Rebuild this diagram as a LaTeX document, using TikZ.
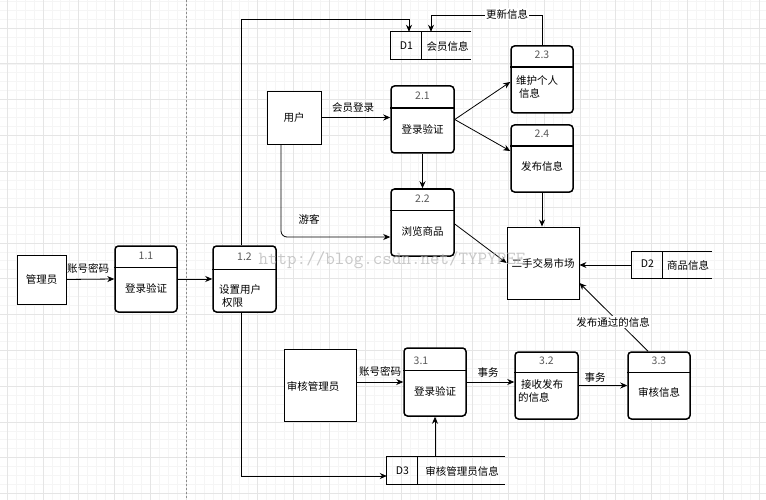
\documentclass[tikz,border=0pt]{standalone}
\usepackage{fontspec}
\setmainfont{Noto Sans CJK SC}
\usetikzlibrary{arrows.meta}
\newcommand\mkproc[5]{%
  \node[proc, minimum width=#3pt, minimum height=#4pt] (#1) at (#2) {};
  \draw[line width=1.5pt] ([yshift=-#5pt]#1.north west) -- ([yshift=-#5pt]#1.north east);
}
\newcommand\mkstore[4]{%
  \node[inner sep=0pt, minimum width=#3pt, minimum height=27pt] (#1) at (#2) {};
  \draw[store] (#1.north east) -- (#1.north west) -- (#1.south west) -- (#1.south east);
  \draw[store] ([xshift=#4pt]#1.north west) -- ([xshift=#4pt]#1.south west);
}
\tikzset{
  proc/.style={draw, rounded corners=3.5pt, line width=1.5pt, fill=white, inner sep=0pt},
  ent/.style={draw, line width=0.9pt, fill=white, inner sep=0pt},
  store/.style={line width=1.2pt},
  arr/.style={-{Stealth[length=7pt,width=6pt]}, line width=0.8pt},
  num/.style={text=black!65, inner sep=0pt},
  txt/.style={inner sep=0pt},
  lbl/.style={fill=white, inner sep=1pt},
  minorg/.style={black!4, line width=0.5pt},
  majorg/.style={black!10, line width=0.6pt}
}
\begin{document}
\begin{tikzpicture}[x=1pt, y=-1pt, font=\fontsize{10.5}{13}\selectfont]
\useasboundingbox (0,0) rectangle (766,500);
\fill[white] (0,0) rectangle (766,500);
% grid
\foreach \i in {0,...,86} {\draw[minorg] ({-1.95+8.95*\i},0) -- ({-1.95+8.95*\i},500);}
\foreach \i in {0,...,56} {\draw[minorg] (0,{1.15+8.95*\i}) -- (766,{1.15+8.95*\i});}
\foreach \i in {0,...,21} {\draw[majorg] ({7+35.8*\i},0) -- ({7+35.8*\i},500);}
\foreach \i in {0,...,13} {\draw[majorg] (0,{28+35.8*\i}) -- (766,{28+35.8*\i});}
\draw[black!45, dash pattern=on 2pt off 2pt, line width=0.6pt] (186,0) -- (186,500);

% external entities
\node[ent, minimum width=49pt, minimum height=49pt] (m1) at (41.5,279.5) {管理员};
\node[ent, minimum width=54pt, minimum height=53pt] (u) at (294,117.5) {用户};
\node[ent, minimum width=72pt, minimum height=72pt] (mk) at (543,263) {二手交易市场};
\node[ent, minimum width=72pt, minimum height=72pt] (am) at (320,385) {};
\node[txt] (amt) at (313,386) {审核管理员};

% processes
\mkproc{p11}{146,279}{62}{66}{22}
\node[num] (p11n) at (146,256) {1.1};
\node[txt] (p11t) at (146,288) {登录验证};
\mkproc{p12}{244.5,279}{63}{66}{24}
\node[num] (p12n) at (244.5,257) {1.2};
\node[txt, anchor=west, align=left] (p12t) at (219,296) {设置用户\\\hspace{3pt}权限};
\mkproc{p21}{422.5,119.5}{63}{67}{23}
\node[num] (p21n) at (422.5,96) {2.1};
\node[txt] (p21t) at (422.5,129) {登录验证};
\mkproc{p22}{422.5,222.5}{63}{67}{22}
\node[num] (p22n) at (422.5,199) {2.2};
\node[txt] (p22t) at (422.5,231) {浏览商品};
\mkproc{p23}{542,79.5}{62}{67}{22}
\node[num] (p23n) at (542,55) {2.3};
\node[txt, anchor=west, align=left] (p23t) at (516,87) {维护个人\\\hspace{3pt}信息};
\mkproc{p24}{542,158.5}{62}{67}{22}
\node[num] (p24n) at (542,134) {2.4};
\node[txt] (p24t) at (542,166) {发布信息};
\mkproc{p31}{435,382}{62}{68}{23}
\node[num] (p31n) at (421,361) {3.1};
\node[txt] (p31t) at (435,391) {登录验证};
\mkproc{p32}{546.5,385.5}{63}{67}{21}
\node[num] (p32n) at (546.5,361) {3.2};
\node[txt, anchor=west, align=left] (p32t) at (518,391.5) {\hspace{3pt}接收发布\\的信息};
\mkproc{p33}{659,385.5}{62}{67}{21}
\node[num] (p33n) at (659,361) {3.3};
\node[txt] (p33t) at (659,392) {审核信息};

% data stores
\mkstore{d1}{431,45.5}{80}{31}
\node[txt] (d1a) at (406.5,46) {D1};
\node[txt] (d1b) at (447.5,46) {会员信息};
\mkstore{d2}{672,265}{80}{31}
\node[txt] (d2a) at (647.5,264) {D2};
\node[txt] (d2b) at (688,265.5) {商品信息};
\mkstore{d3}{446,470.5}{118}{31}
\node[txt] (d3a) at (402.5,471) {D3};
\node[txt] (d3b) at (462,471) {审核管理员信息};

% connectors
\draw[arr] (m1.east) -- (p11.west);
\node[txt] (l1) at (88,268) {账号密码};
\draw[arr] (p11.east) -- (p12.west);
\coordinate (c1) at (241,19);
\coordinate (c2) at (409,19);
\draw[arr] ([xshift=-3.5pt]p12.north) -- (c1) -- (c2) -- ([xshift=-22pt]d1.north);
\coordinate (c3) at (542,15);
\coordinate (c4) at (431,15);
\draw[arr] (p23.north) -- (c3) -- (c4) -- (d1.north);
\node[lbl] (l2) at (507,14) {更新信息};
\draw[arr] (u.east) -- (p21.west |- u.east);
\node[txt] (l3) at (353,108) {会员登录};
\draw[arr] (p21.east) -- ([yshift=-2.5pt]p23.west);
\draw[arr] (p21.east) -- ([yshift=7.5pt]p24.west);
\draw[arr] (p21.south) -- (p22.north);
\draw[arr, rounded corners=6pt] ([xshift=-13pt]u.south) |- ([yshift=-14.5pt]p22.west);
\node[txt] (l4) at (309,219) {游客};
\draw[arr] (p24.south) -- (p24.south |- mk.north);
\draw[arr] ([yshift=-1.5pt]p22.east) -- (mk.west);
\draw[arr] (d2.west) -- (mk.east |- d2.west);
\draw[arr] ([xshift=-11pt]p33.north) -- ([yshift=-20pt]mk.east);
\node[lbl] (l5) at (613,322) {发布通过的信息};
\draw[arr] (am.east |- p31.west) -- (p31.west);
\node[txt] (l6) at (380,371) {账号密码};
\draw[arr] (p31.south |- d3.north) -- (p31.south);
\draw[arr] ([xshift=-3.5pt]p12.south) |- ([yshift=-5.5pt]d3.west);
\draw[arr] (p31.east) -- (p32.west |- p31.east);
\node[txt] (l7) at (488,373) {事务};
\draw[arr] (p32.east) -- (p33.west |- p32.east);
\node[txt] (l8) at (595,378) {事务};

% watermark
\node[text=black!30, opacity=0.7, inner sep=0pt, font=\ttfamily\fontsize{18.5}{20}\selectfont] (wm) at (392,260) {http://blog.csdn.net/TYPYPEE};
\end{tikzpicture}
\end{document}
